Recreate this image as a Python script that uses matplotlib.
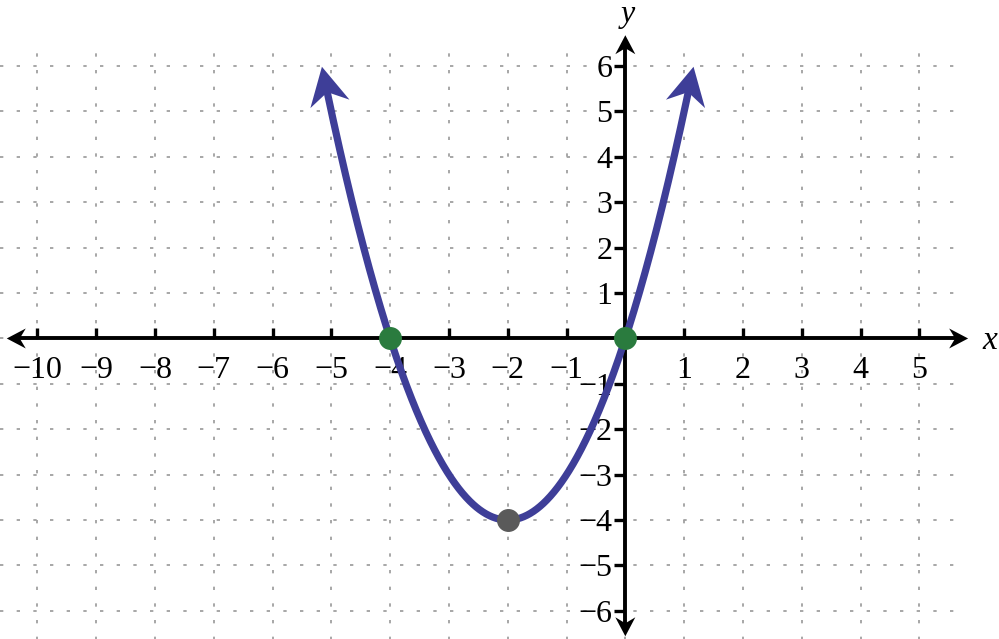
import numpy as np
import matplotlib
matplotlib.use("Agg")
import matplotlib.pyplot as plt
from matplotlib.patches import Polygon
from matplotlib.transforms import IdentityTransform, offset_copy

# parabola y = (x - h)^2 + k, drawn between the two arrow tips
h, k = -2, -4
x_ends = [-5.16, 1.16]
roots_x = [-4, 0]
roots_y = [0, 0]
vertex_x = [-2]
vertex_y = [-4]

x_ticks = [-10, -9, -8, -7, -6, -5, -4, -3, -2, -1, 1, 2, 3, 4, 5]
y_ticks = [-6, -5, -4, -3, -2, -1, 1, 2, 3, 4, 5, 6]
grid_x = list(range(-10, 6))
grid_y = list(range(-6, 7))

CURVE = "#3e3e98"
GREEN = "#2a7b3e"
GRAY = "#5a5a5a"
GRID = "#a0a0a0"
SERIF = ["Liberation Serif", "DejaVu Serif"]

plt.rcParams["lines.scale_dashes"] = False

fig = plt.figure(figsize=(9.99, 6.39), dpi=100)
ax = fig.add_axes([0, 0, 1, 1])
ax.set_xlim(-10.635, 6.355)
ax.set_ylim(-6.62, 7.456)
ax.axis("off")


def stealth(tip, back, length, width, notch, color, z):
    # arrowhead drawn in pixel space so both axes scales don't distort it
    t = ax.transData.transform(tip)
    b = ax.transData.transform(back)
    d = (t - b) / np.hypot(*(t - b))
    n = np.array([-d[1], d[0]])
    pts = [t, t - d * length + n * width / 2, t - d * notch,
           t - d * length - n * width / 2]
    ax.add_patch(Polygon(pts, closed=True, color=color, lw=0,
                         transform=IdentityTransform(), zorder=z))


# dotted grid
dots = (0, (2.4, 9.6))
ax.vlines(grid_x, -6.7, 6.31, colors=GRID, lw=1.3, linestyles=[dots], zorder=1)
ax.hlines(grid_y, -10.64, 5.6, colors=GRID, lw=1.3, linestyles=[dots], zorder=1)

# axes with arrows
x_tips = [-10.52, 5.83]
y_tips = [-6.56, 6.68]
ax.plot([x_tips[0] + 0.2, x_tips[1] - 0.2], [0, 0], color="black", lw=2.8,
        solid_capstyle="butt", zorder=3)
ax.plot([0, 0], [y_tips[0] + 0.25, y_tips[1] - 0.25], color="black", lw=2.8,
        solid_capstyle="butt", zorder=3)
stealth((x_tips[0], 0), (0, 0), 19, 20, 13, "black", 3)
stealth((x_tips[1], 0), (0, 0), 19, 20, 13, "black", 3)
stealth((0, y_tips[0]), (0, 0), 19, 20, 13, "black", 3)
stealth((0, y_tips[1]), (0, 0), 19, 20, 13, "black", 3)

# ticks
ax.plot(x_ticks, [0] * len(x_ticks), ls="none", marker=2, ms=7.5, mew=2.4,
        color="black", zorder=3)
ax.plot([0] * len(y_ticks), y_ticks, ls="none", marker=0, ms=8, mew=2.4,
        color="black", zorder=3)

# tick labels
for v in x_ticks:
    ax.text(v, 0, f"\u2212{abs(v)}" if v < 0 else str(v), family=SERIF,
            fontsize=23, ha="center", va="baseline",
            transform=offset_copy(ax.transData, fig, x=0, y=-39.5, units="dots"))
for v in y_ticks:
    ax.text(0, v, f"\u2212{abs(v)}" if v < 0 else str(v), family=SERIF,
            fontsize=23, ha="right", va="baseline",
            transform=offset_copy(ax.transData, fig, x=-13, y=-11, units="dots"))
ax.text(x_tips[1], 0, "x", family=SERIF, style="italic", fontsize=24,
        ha="center", va="baseline",
        transform=offset_copy(ax.transData, fig, x=22, y=-11, units="dots"))
ax.text(0, y_tips[1], "y", family=SERIF, style="italic", fontsize=23,
        ha="center", va="baseline",
        transform=offset_copy(ax.transData, fig, x=2, y=13, units="dots"))

# the curve, trimmed near the tips so the line hides under the arrowheads
xs = np.linspace(x_ends[0], x_ends[1], 800)
ys = (xs - h) ** 2 + k
px = ax.transData.transform(np.column_stack([xs, ys]))
tip_l, tip_r = px[0], px[-1]
keep = (np.hypot(*(px - tip_l).T) > 22) & (np.hypot(*(px - tip_r).T) > 22)
ax.plot(xs[keep], ys[keep], color=CURVE, lw=5.2, zorder=4)
back_l = (xs[40], ys[40])
back_r = (xs[-41], ys[-41])
stealth((xs[0], ys[0]), back_l, 38, 40, 26, CURVE, 5)
stealth((xs[-1], ys[-1]), back_r, 38, 40, 26, CURVE, 5)

# marked points
ax.plot(roots_x, roots_y, ls="none", marker="o", ms=15.5, color=GREEN, zorder=6)
ax.plot(vertex_x, vertex_y, ls="none", marker="o", ms=15.5, color=GRAY, zorder=6)

fig.savefig("out.png", dpi=100)
